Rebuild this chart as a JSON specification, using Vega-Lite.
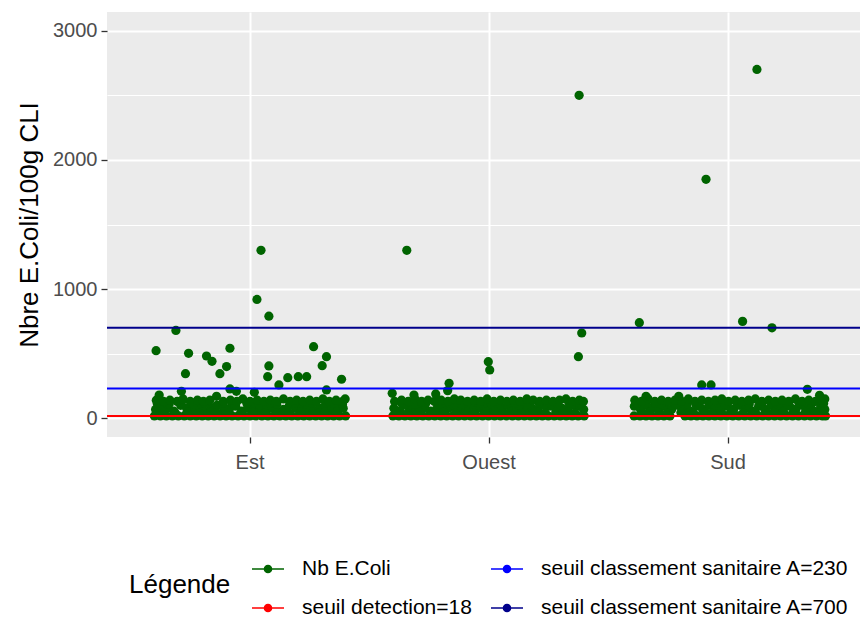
{
"$schema": "https://vega.github.io/schema/vega-lite/v6.json",
"width": 753, "height": 425,
"autosize": {"type": "none"},
"padding": {"left": 107, "top": 12, "right": 0, "bottom": 183},
"background": "white",
"config": {"font": "Liberation Sans", "view": {"fill": "#ebebeb", "stroke": null}},
"datasets": {
"seuils": [
{"seuil": "seuil detection=18", "value": 18},
{"seuil": "seuil classement sanitaire A=230", "value": 230},
{"seuil": "seuil classement sanitaire A=700", "value": 700}
],
"points": [
{"zone":"Est","jitter":-0.4,"value":18},{"zone":"Est","jitter":-0.375,"value":18},{"zone":"Est","jitter":-0.35,"value":18},{"zone":"Est","jitter":-0.325,"value":18},{"zone":"Est","jitter":-0.3,"value":18},{"zone":"Est","jitter":-0.275,"value":18},{"zone":"Est","jitter":-0.25,"value":18},{"zone":"Est","jitter":-0.225,"value":18},{"zone":"Est","jitter":-0.2,"value":18},{"zone":"Est","jitter":-0.175,"value":18},{"zone":"Est","jitter":-0.15,"value":18},{"zone":"Est","jitter":-0.125,"value":18},{"zone":"Est","jitter":-0.1,"value":18},{"zone":"Est","jitter":-0.075,"value":18},{"zone":"Est","jitter":-0.05,"value":18},{"zone":"Est","jitter":-0.025,"value":18},{"zone":"Est","jitter":0,"value":18},{"zone":"Est","jitter":0.025,"value":18},{"zone":"Est","jitter":0.05,"value":18},{"zone":"Est","jitter":0.075,"value":18},{"zone":"Est","jitter":0.1,"value":18},{"zone":"Est","jitter":0.125,"value":18},{"zone":"Est","jitter":0.15,"value":18},{"zone":"Est","jitter":0.175,"value":18},{"zone":"Est","jitter":0.2,"value":18},{"zone":"Est","jitter":0.225,"value":18},{"zone":"Est","jitter":0.25,"value":18},{"zone":"Est","jitter":0.275,"value":18},{"zone":"Est","jitter":0.3,"value":18},{"zone":"Est","jitter":0.325,"value":18},{"zone":"Est","jitter":0.35,"value":18},{"zone":"Est","jitter":0.375,"value":18},{"zone":"Est","jitter":0.4,"value":18},
{"zone":"Est","jitter":-0.395,"value":68},{"zone":"Est","jitter":-0.37,"value":93},{"zone":"Est","jitter":-0.345,"value":78},{"zone":"Est","jitter":-0.318,"value":55},{"zone":"Est","jitter":-0.29,"value":100},{"zone":"Est","jitter":-0.265,"value":78},{"zone":"Est","jitter":-0.24,"value":68},{"zone":"Est","jitter":-0.212,"value":93},{"zone":"Est","jitter":-0.19,"value":55},{"zone":"Est","jitter":-0.163,"value":78},{"zone":"Est","jitter":-0.138,"value":100},{"zone":"Est","jitter":-0.11,"value":68},{"zone":"Est","jitter":-0.085,"value":78},{"zone":"Est","jitter":-0.06,"value":93},{"zone":"Est","jitter":-0.035,"value":55},{"zone":"Est","jitter":-0.01,"value":78},{"zone":"Est","jitter":0.015,"value":100},{"zone":"Est","jitter":0.04,"value":68},{"zone":"Est","jitter":0.065,"value":93},{"zone":"Est","jitter":0.09,"value":78},{"zone":"Est","jitter":0.115,"value":55},{"zone":"Est","jitter":0.14,"value":68},{"zone":"Est","jitter":0.165,"value":100},{"zone":"Est","jitter":0.19,"value":78},{"zone":"Est","jitter":0.215,"value":93},{"zone":"Est","jitter":0.24,"value":68},{"zone":"Est","jitter":0.265,"value":55},{"zone":"Est","jitter":0.29,"value":78},{"zone":"Est","jitter":0.315,"value":100},{"zone":"Est","jitter":0.34,"value":68},{"zone":"Est","jitter":0.365,"value":93},{"zone":"Est","jitter":0.39,"value":78},
{"zone":"Est","jitter":-0.388,"value":115},{"zone":"Est","jitter":-0.363,"value":45},{"zone":"Est","jitter":-0.338,"value":110},{"zone":"Est","jitter":-0.313,"value":40},{"zone":"Est","jitter":-0.288,"value":115},{"zone":"Est","jitter":-0.263,"value":45},{"zone":"Est","jitter":-0.238,"value":110},{"zone":"Est","jitter":-0.213,"value":40},{"zone":"Est","jitter":-0.188,"value":115},{"zone":"Est","jitter":-0.163,"value":45},{"zone":"Est","jitter":-0.138,"value":40},{"zone":"Est","jitter":-0.113,"value":115},{"zone":"Est","jitter":-0.088,"value":45},{"zone":"Est","jitter":-0.063,"value":110},{"zone":"Est","jitter":-0.038,"value":40},{"zone":"Est","jitter":-0.013,"value":115},{"zone":"Est","jitter":0.012,"value":45},{"zone":"Est","jitter":0.037,"value":110},{"zone":"Est","jitter":0.062,"value":40},{"zone":"Est","jitter":0.087,"value":115},{"zone":"Est","jitter":0.112,"value":110},{"zone":"Est","jitter":0.137,"value":45},{"zone":"Est","jitter":0.162,"value":40},{"zone":"Est","jitter":0.187,"value":115},{"zone":"Est","jitter":0.212,"value":45},{"zone":"Est","jitter":0.237,"value":110},{"zone":"Est","jitter":0.262,"value":115},{"zone":"Est","jitter":0.287,"value":40},{"zone":"Est","jitter":0.312,"value":45},{"zone":"Est","jitter":0.337,"value":115},{"zone":"Est","jitter":0.362,"value":45},{"zone":"Est","jitter":0.387,"value":110},
{"zone":"Est","jitter":-0.392,"value":140},{"zone":"Est","jitter":-0.362,"value":130},{"zone":"Est","jitter":-0.335,"value":140},{"zone":"Est","jitter":-0.305,"value":130},{"zone":"Est","jitter":-0.28,"value":150},{"zone":"Est","jitter":-0.25,"value":130},{"zone":"Est","jitter":-0.22,"value":140},{"zone":"Est","jitter":-0.195,"value":130},{"zone":"Est","jitter":-0.168,"value":140},{"zone":"Est","jitter":-0.14,"value":170},{"zone":"Est","jitter":-0.112,"value":130},{"zone":"Est","jitter":-0.082,"value":140},{"zone":"Est","jitter":-0.055,"value":130},{"zone":"Est","jitter":-0.03,"value":150},{"zone":"Est","jitter":0,"value":130},{"zone":"Est","jitter":0.03,"value":140},{"zone":"Est","jitter":0.058,"value":130},{"zone":"Est","jitter":0.085,"value":140},{"zone":"Est","jitter":0.11,"value":130},{"zone":"Est","jitter":0.14,"value":150},{"zone":"Est","jitter":0.168,"value":130},{"zone":"Est","jitter":0.195,"value":140},{"zone":"Est","jitter":0.222,"value":130},{"zone":"Est","jitter":0.25,"value":140},{"zone":"Est","jitter":0.278,"value":130},{"zone":"Est","jitter":0.305,"value":150},{"zone":"Est","jitter":0.332,"value":130},{"zone":"Est","jitter":0.36,"value":140},{"zone":"Est","jitter":0.388,"value":130},{"zone":"Est","jitter":0.398,"value":150},
{"zone":"Est","jitter":0.046,"value":1300},{"zone":"Est","jitter":0.029,"value":920},{"zone":"Est","jitter":0.079,"value":790},{"zone":"Est","jitter":-0.31,"value":680},{"zone":"Est","jitter":-0.393,"value":523},{"zone":"Est","jitter":-0.257,"value":503},{"zone":"Est","jitter":-0.182,"value":482},{"zone":"Est","jitter":-0.159,"value":441},{"zone":"Est","jitter":-0.084,"value":542},{"zone":"Est","jitter":-0.098,"value":400},{"zone":"Est","jitter":-0.126,"value":345},{"zone":"Est","jitter":-0.27,"value":345},{"zone":"Est","jitter":-0.287,"value":209},{"zone":"Est","jitter":-0.084,"value":227},{"zone":"Est","jitter":-0.057,"value":209},{"zone":"Est","jitter":0.018,"value":201},{"zone":"Est","jitter":0.079,"value":405},{"zone":"Est","jitter":0.074,"value":322},{"zone":"Est","jitter":0.121,"value":258},{"zone":"Est","jitter":0.158,"value":314},{"zone":"Est","jitter":0.202,"value":322},{"zone":"Est","jitter":0.237,"value":322},{"zone":"Est","jitter":0.266,"value":554},{"zone":"Est","jitter":0.32,"value":477},{"zone":"Est","jitter":0.302,"value":407},{"zone":"Est","jitter":0.383,"value":302},{"zone":"Est","jitter":0.32,"value":219},{"zone":"Est","jitter":-0.38,"value":180},
{"zone":"Ouest","jitter":-0.402,"value":18},{"zone":"Ouest","jitter":-0.377,"value":18},{"zone":"Ouest","jitter":-0.352,"value":18},{"zone":"Ouest","jitter":-0.327,"value":18},{"zone":"Ouest","jitter":-0.302,"value":18},{"zone":"Ouest","jitter":-0.277,"value":18},{"zone":"Ouest","jitter":-0.252,"value":18},{"zone":"Ouest","jitter":-0.227,"value":18},{"zone":"Ouest","jitter":-0.202,"value":18},{"zone":"Ouest","jitter":-0.177,"value":18},{"zone":"Ouest","jitter":-0.152,"value":18},{"zone":"Ouest","jitter":-0.127,"value":18},{"zone":"Ouest","jitter":-0.102,"value":18},{"zone":"Ouest","jitter":-0.077,"value":18},{"zone":"Ouest","jitter":-0.052,"value":18},{"zone":"Ouest","jitter":-0.027,"value":18},{"zone":"Ouest","jitter":-0.002,"value":18},{"zone":"Ouest","jitter":0.023,"value":18},{"zone":"Ouest","jitter":0.048,"value":18},{"zone":"Ouest","jitter":0.073,"value":18},{"zone":"Ouest","jitter":0.098,"value":18},{"zone":"Ouest","jitter":0.123,"value":18},{"zone":"Ouest","jitter":0.148,"value":18},{"zone":"Ouest","jitter":0.173,"value":18},{"zone":"Ouest","jitter":0.198,"value":18},{"zone":"Ouest","jitter":0.223,"value":18},{"zone":"Ouest","jitter":0.248,"value":18},{"zone":"Ouest","jitter":0.273,"value":18},{"zone":"Ouest","jitter":0.298,"value":18},{"zone":"Ouest","jitter":0.323,"value":18},{"zone":"Ouest","jitter":0.348,"value":18},{"zone":"Ouest","jitter":0.373,"value":18},{"zone":"Ouest","jitter":0.398,"value":18},
{"zone":"Ouest","jitter":-0.398,"value":78},{"zone":"Ouest","jitter":-0.372,"value":55},{"zone":"Ouest","jitter":-0.348,"value":100},{"zone":"Ouest","jitter":-0.322,"value":68},{"zone":"Ouest","jitter":-0.297,"value":93},{"zone":"Ouest","jitter":-0.27,"value":78},{"zone":"Ouest","jitter":-0.245,"value":55},{"zone":"Ouest","jitter":-0.22,"value":68},{"zone":"Ouest","jitter":-0.195,"value":100},{"zone":"Ouest","jitter":-0.17,"value":78},{"zone":"Ouest","jitter":-0.145,"value":93},{"zone":"Ouest","jitter":-0.12,"value":55},{"zone":"Ouest","jitter":-0.095,"value":68},{"zone":"Ouest","jitter":-0.07,"value":100},{"zone":"Ouest","jitter":-0.045,"value":78},{"zone":"Ouest","jitter":-0.02,"value":93},{"zone":"Ouest","jitter":0.005,"value":68},{"zone":"Ouest","jitter":0.03,"value":55},{"zone":"Ouest","jitter":0.055,"value":78},{"zone":"Ouest","jitter":0.08,"value":100},{"zone":"Ouest","jitter":0.105,"value":68},{"zone":"Ouest","jitter":0.13,"value":93},{"zone":"Ouest","jitter":0.155,"value":55},{"zone":"Ouest","jitter":0.18,"value":78},{"zone":"Ouest","jitter":0.205,"value":68},{"zone":"Ouest","jitter":0.23,"value":100},{"zone":"Ouest","jitter":0.255,"value":93},{"zone":"Ouest","jitter":0.28,"value":55},{"zone":"Ouest","jitter":0.305,"value":78},{"zone":"Ouest","jitter":0.33,"value":68},{"zone":"Ouest","jitter":0.355,"value":100},{"zone":"Ouest","jitter":0.38,"value":93},{"zone":"Ouest","jitter":0.396,"value":68},
{"zone":"Ouest","jitter":-0.39,"value":45},{"zone":"Ouest","jitter":-0.365,"value":115},{"zone":"Ouest","jitter":-0.34,"value":40},{"zone":"Ouest","jitter":-0.315,"value":110},{"zone":"Ouest","jitter":-0.29,"value":45},{"zone":"Ouest","jitter":-0.265,"value":115},{"zone":"Ouest","jitter":-0.24,"value":40},{"zone":"Ouest","jitter":-0.215,"value":110},{"zone":"Ouest","jitter":-0.19,"value":45},{"zone":"Ouest","jitter":-0.165,"value":115},{"zone":"Ouest","jitter":-0.14,"value":40},{"zone":"Ouest","jitter":-0.115,"value":110},{"zone":"Ouest","jitter":-0.09,"value":45},{"zone":"Ouest","jitter":-0.065,"value":40},{"zone":"Ouest","jitter":-0.04,"value":115},{"zone":"Ouest","jitter":-0.015,"value":45},{"zone":"Ouest","jitter":0.01,"value":110},{"zone":"Ouest","jitter":0.035,"value":115},{"zone":"Ouest","jitter":0.06,"value":40},{"zone":"Ouest","jitter":0.085,"value":45},{"zone":"Ouest","jitter":0.11,"value":115},{"zone":"Ouest","jitter":0.135,"value":40},{"zone":"Ouest","jitter":0.16,"value":110},{"zone":"Ouest","jitter":0.185,"value":45},{"zone":"Ouest","jitter":0.21,"value":115},{"zone":"Ouest","jitter":0.235,"value":40},{"zone":"Ouest","jitter":0.26,"value":110},{"zone":"Ouest","jitter":0.285,"value":115},{"zone":"Ouest","jitter":0.31,"value":45},{"zone":"Ouest","jitter":0.335,"value":115},{"zone":"Ouest","jitter":0.36,"value":40},{"zone":"Ouest","jitter":0.385,"value":110},
{"zone":"Ouest","jitter":-0.395,"value":130},{"zone":"Ouest","jitter":-0.366,"value":140},{"zone":"Ouest","jitter":-0.338,"value":130},{"zone":"Ouest","jitter":-0.31,"value":150},{"zone":"Ouest","jitter":-0.282,"value":130},{"zone":"Ouest","jitter":-0.255,"value":140},{"zone":"Ouest","jitter":-0.228,"value":130},{"zone":"Ouest","jitter":-0.2,"value":140},{"zone":"Ouest","jitter":-0.172,"value":130},{"zone":"Ouest","jitter":-0.145,"value":150},{"zone":"Ouest","jitter":-0.118,"value":140},{"zone":"Ouest","jitter":-0.09,"value":130},{"zone":"Ouest","jitter":-0.062,"value":140},{"zone":"Ouest","jitter":-0.035,"value":130},{"zone":"Ouest","jitter":-0.008,"value":150},{"zone":"Ouest","jitter":0.02,"value":130},{"zone":"Ouest","jitter":0.048,"value":140},{"zone":"Ouest","jitter":0.075,"value":130},{"zone":"Ouest","jitter":0.102,"value":140},{"zone":"Ouest","jitter":0.13,"value":130},{"zone":"Ouest","jitter":0.158,"value":150},{"zone":"Ouest","jitter":0.185,"value":140},{"zone":"Ouest","jitter":0.212,"value":130},{"zone":"Ouest","jitter":0.24,"value":140},{"zone":"Ouest","jitter":0.268,"value":130},{"zone":"Ouest","jitter":0.295,"value":140},{"zone":"Ouest","jitter":0.322,"value":150},{"zone":"Ouest","jitter":0.35,"value":130},{"zone":"Ouest","jitter":0.378,"value":140},{"zone":"Ouest","jitter":0.395,"value":130},
{"zone":"Ouest","jitter":-0.344,"value":1300},{"zone":"Ouest","jitter":0.377,"value":2500},{"zone":"Ouest","jitter":0.388,"value":660},{"zone":"Ouest","jitter":0.374,"value":477},{"zone":"Ouest","jitter":-0.003,"value":438},{"zone":"Ouest","jitter":0.003,"value":374},{"zone":"Ouest","jitter":-0.167,"value":271},{"zone":"Ouest","jitter":-0.173,"value":214},{"zone":"Ouest","jitter":-0.223,"value":188},{"zone":"Ouest","jitter":-0.405,"value":193},{"zone":"Ouest","jitter":-0.314,"value":180},
{"zone":"Sud","jitter":-0.393,"value":18},{"zone":"Sud","jitter":-0.368,"value":18},{"zone":"Sud","jitter":-0.343,"value":18},{"zone":"Sud","jitter":-0.318,"value":18},{"zone":"Sud","jitter":-0.293,"value":18},{"zone":"Sud","jitter":-0.268,"value":18},{"zone":"Sud","jitter":-0.243,"value":18},{"zone":"Sud","jitter":-0.18,"value":18},{"zone":"Sud","jitter":-0.155,"value":18},{"zone":"Sud","jitter":-0.13,"value":18},{"zone":"Sud","jitter":-0.105,"value":18},{"zone":"Sud","jitter":-0.08,"value":18},{"zone":"Sud","jitter":-0.055,"value":18},{"zone":"Sud","jitter":-0.03,"value":18},{"zone":"Sud","jitter":-0.005,"value":18},{"zone":"Sud","jitter":0.02,"value":18},{"zone":"Sud","jitter":0.045,"value":18},{"zone":"Sud","jitter":0.07,"value":18},{"zone":"Sud","jitter":0.095,"value":18},{"zone":"Sud","jitter":0.12,"value":18},{"zone":"Sud","jitter":0.145,"value":18},{"zone":"Sud","jitter":0.17,"value":18},{"zone":"Sud","jitter":0.195,"value":18},{"zone":"Sud","jitter":0.22,"value":18},{"zone":"Sud","jitter":0.245,"value":18},{"zone":"Sud","jitter":0.27,"value":18},{"zone":"Sud","jitter":0.295,"value":18},{"zone":"Sud","jitter":0.32,"value":18},{"zone":"Sud","jitter":0.345,"value":18},{"zone":"Sud","jitter":0.37,"value":18},{"zone":"Sud","jitter":0.395,"value":18},{"zone":"Sud","jitter":0.408,"value":18},
{"zone":"Sud","jitter":-0.392,"value":93},{"zone":"Sud","jitter":-0.366,"value":68},{"zone":"Sud","jitter":-0.34,"value":100},{"zone":"Sud","jitter":-0.314,"value":78},{"zone":"Sud","jitter":-0.288,"value":55},{"zone":"Sud","jitter":-0.262,"value":93},{"zone":"Sud","jitter":-0.236,"value":68},{"zone":"Sud","jitter":-0.21,"value":100},{"zone":"Sud","jitter":-0.184,"value":78},{"zone":"Sud","jitter":-0.158,"value":55},{"zone":"Sud","jitter":-0.132,"value":93},{"zone":"Sud","jitter":-0.106,"value":68},{"zone":"Sud","jitter":-0.08,"value":100},{"zone":"Sud","jitter":-0.054,"value":78},{"zone":"Sud","jitter":-0.028,"value":55},{"zone":"Sud","jitter":-0.002,"value":93},{"zone":"Sud","jitter":0.024,"value":68},{"zone":"Sud","jitter":0.05,"value":100},{"zone":"Sud","jitter":0.076,"value":78},{"zone":"Sud","jitter":0.102,"value":55},{"zone":"Sud","jitter":0.128,"value":93},{"zone":"Sud","jitter":0.154,"value":68},{"zone":"Sud","jitter":0.18,"value":100},{"zone":"Sud","jitter":0.206,"value":78},{"zone":"Sud","jitter":0.232,"value":55},{"zone":"Sud","jitter":0.258,"value":93},{"zone":"Sud","jitter":0.284,"value":68},{"zone":"Sud","jitter":0.31,"value":100},{"zone":"Sud","jitter":0.336,"value":78},{"zone":"Sud","jitter":0.362,"value":55},{"zone":"Sud","jitter":0.388,"value":93},{"zone":"Sud","jitter":0.405,"value":68},
{"zone":"Sud","jitter":-0.38,"value":115},{"zone":"Sud","jitter":-0.355,"value":40},{"zone":"Sud","jitter":-0.33,"value":45},{"zone":"Sud","jitter":-0.305,"value":115},{"zone":"Sud","jitter":-0.28,"value":110},{"zone":"Sud","jitter":-0.255,"value":40},{"zone":"Sud","jitter":-0.225,"value":115},{"zone":"Sud","jitter":-0.197,"value":45},{"zone":"Sud","jitter":-0.17,"value":110},{"zone":"Sud","jitter":-0.145,"value":40},{"zone":"Sud","jitter":-0.12,"value":115},{"zone":"Sud","jitter":-0.095,"value":45},{"zone":"Sud","jitter":-0.068,"value":40},{"zone":"Sud","jitter":-0.042,"value":115},{"zone":"Sud","jitter":-0.015,"value":110},{"zone":"Sud","jitter":0.011,"value":45},{"zone":"Sud","jitter":0.037,"value":115},{"zone":"Sud","jitter":0.063,"value":40},{"zone":"Sud","jitter":0.089,"value":110},{"zone":"Sud","jitter":0.115,"value":45},{"zone":"Sud","jitter":0.141,"value":115},{"zone":"Sud","jitter":0.167,"value":40},{"zone":"Sud","jitter":0.193,"value":45},{"zone":"Sud","jitter":0.219,"value":115},{"zone":"Sud","jitter":0.245,"value":110},{"zone":"Sud","jitter":0.271,"value":40},{"zone":"Sud","jitter":0.297,"value":115},{"zone":"Sud","jitter":0.323,"value":45},{"zone":"Sud","jitter":0.349,"value":110},{"zone":"Sud","jitter":0.375,"value":40},{"zone":"Sud","jitter":0.4,"value":115},
{"zone":"Sud","jitter":-0.39,"value":140},{"zone":"Sud","jitter":-0.362,"value":130},{"zone":"Sud","jitter":-0.334,"value":150},{"zone":"Sud","jitter":-0.306,"value":130},{"zone":"Sud","jitter":-0.278,"value":140},{"zone":"Sud","jitter":-0.25,"value":130},{"zone":"Sud","jitter":-0.222,"value":140},{"zone":"Sud","jitter":-0.194,"value":130},{"zone":"Sud","jitter":-0.166,"value":150},{"zone":"Sud","jitter":-0.138,"value":130},{"zone":"Sud","jitter":-0.11,"value":140},{"zone":"Sud","jitter":-0.082,"value":130},{"zone":"Sud","jitter":-0.054,"value":140},{"zone":"Sud","jitter":-0.026,"value":150},{"zone":"Sud","jitter":0.002,"value":130},{"zone":"Sud","jitter":0.03,"value":140},{"zone":"Sud","jitter":0.058,"value":130},{"zone":"Sud","jitter":0.086,"value":140},{"zone":"Sud","jitter":0.114,"value":150},{"zone":"Sud","jitter":0.142,"value":130},{"zone":"Sud","jitter":0.17,"value":140},{"zone":"Sud","jitter":0.198,"value":130},{"zone":"Sud","jitter":0.226,"value":140},{"zone":"Sud","jitter":0.254,"value":130},{"zone":"Sud","jitter":0.282,"value":150},{"zone":"Sud","jitter":0.31,"value":130},{"zone":"Sud","jitter":0.338,"value":140},{"zone":"Sud","jitter":0.366,"value":130},{"zone":"Sud","jitter":0.394,"value":140},{"zone":"Sud","jitter":0.405,"value":150},
{"zone":"Sud","jitter":0.121,"value":2700},{"zone":"Sud","jitter":-0.092,"value":1850},{"zone":"Sud","jitter":-0.371,"value":740},{"zone":"Sud","jitter":0.061,"value":750},{"zone":"Sud","jitter":0.184,"value":700},{"zone":"Sud","jitter":-0.11,"value":258},{"zone":"Sud","jitter":-0.071,"value":258},{"zone":"Sud","jitter":0.332,"value":224},{"zone":"Sud","jitter":-0.343,"value":170},{"zone":"Sud","jitter":-0.206,"value":170},{"zone":"Sud","jitter":0.383,"value":178}
]
},
"layer": [
{
"data": {"name": "points"},
"mark": {"type": "circle", "size": 85, "opacity": 1},
"encoding": {
"x": {"field": "zone", "type": "nominal", "sort": ["Est", "Ouest", "Sud"],
"scale": {"type": "band", "paddingInner": 0, "paddingOuter": 0.0753, "align": 0.653},
"axis": {"title": null, "labelAngle": 0, "labelFontSize": 20, "labelColor": "#4d4d4d", "tickColor": "#333333", "tickSize": 6, "tickWidth": 1.3, "labelPadding": 9, "domain": false, "grid": true, "gridColor": "white", "gridWidth": 2, "bandPosition": 0.5}},
"xOffset": {"field": "jitter", "type": "quantitative", "scale": {"domain": [-0.5, 0.5]}},
"y": {"field": "value", "type": "quantitative", "title": "Nbre E.Coli/100g CLI",
"scale": {"domain": [-145, 3145], "nice": false, "zero": false},
"axis": {"values": [0, 500, 1000, 1500, 2000, 2500, 3000], "format": "d",
"labelExpr": "datum.value % 1000 === 0 ? datum.label : ''",
"titleFontSize": 26, "titleFontWeight": "normal", "titleColor": "black", "titlePadding": 10,
"labelFontSize": 20, "labelColor": "#4d4d4d", "labelPadding": 4,
"tickColor": "#333333", "tickSize": 6, "tickWidth": 1.3,
"tickOpacity": {"condition": {"test": "datum.value % 1000 === 0", "value": 1}, "value": 0},
"domain": false, "grid": true, "gridColor": "white",
"gridWidth": {"condition": {"test": "datum.value % 1000 === 0", "value": 2}, "value": 1}}},
"color": {"datum": "Nb E.Coli", "type": "nominal", "title": "Légende",
"scale": {"domain": ["Nb E.Coli", "seuil detection=18", "seuil classement sanitaire A=230", "seuil classement sanitaire A=700"], "range": ["#006400", "#ff0000", "#0000ff", "#00008b"]},
"legend": {"orient": "none", "legendX": 22, "legendY": 540, "columns": 2, "titleOrient": "left", "titleAnchor": "middle", "titleBaseline": "middle",
"titleFontSize": 26, "titleFontWeight": "normal", "titleColor": "black", "titlePadding": 20,
"labelFontSize": 21, "labelColor": "black", "labelLimit": 600, "labelOffset": 17,
"symbolType": "M-1,0L1,0M-0.22,0A0.22,0.22 0 1,0 0.22,0A0.22,0.22 0 1,0 -0.22,0Z", "symbolSize": 1024, "symbolStrokeWidth": 1.6,
"rowPadding": 12, "columnPadding": 15,
"encode": {"symbols": {"update": {"fill": {"scale": "color", "field": "value"}, "stroke": {"scale": "color", "field": "value"}, "opacity": {"value": 1}}}}}}
}
},
{
"data": {"name": "seuils"},
"mark": {"type": "rule", "strokeWidth": 2},
"encoding": {
"y": {"field": "value", "type": "quantitative", "title": "Nbre E.Coli/100g CLI"},
"color": {"field": "seuil", "type": "nominal", "title": "Légende"}
}
}
]
}
